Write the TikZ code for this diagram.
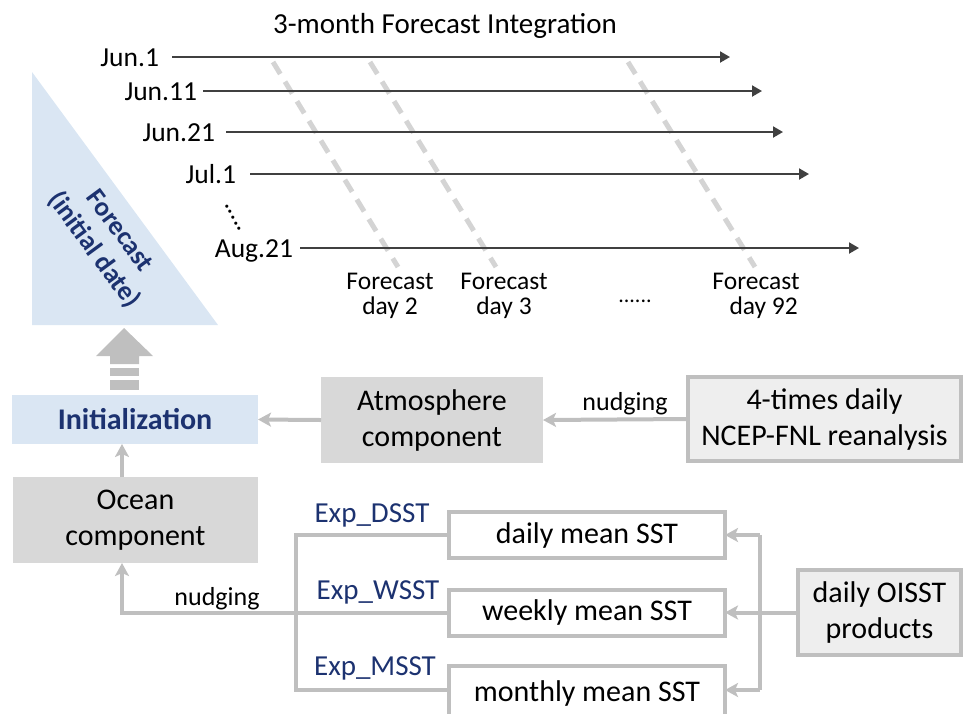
\documentclass[tikz,border=0pt]{standalone}
\usepackage{fontspec}
\setmainfont{Carlito}
\usetikzlibrary{arrows.meta}
\definecolor{navy}{RGB}{28,50,112}
\definecolor{lblue}{RGB}{218,230,243}
\definecolor{boxgray}{RGB}{216,216,216}
\definecolor{linegray}{RGB}{191,191,191}
\definecolor{dashgray}{RGB}{212,212,212}
\definecolor{darkline}{RGB}{64,64,64}
\definecolor{srcfill}{RGB}{238,238,238}
\begin{document}
\begin{tikzpicture}[x=1pt,y=-1pt,
  every node/.style={inner sep=0pt,outer sep=0pt},
  fbox/.style={font=\fontsize{30}{36}\selectfont},
  fdate/.style={font=\fontsize{27.5}{32}\selectfont},
  ftitle/.style={font=\fontsize{29}{34}\selectfont},
  fday/.style={font=\fontsize{25.5}{24.5}\selectfont},
  fsmall/.style={font=\fontsize{26}{30}\selectfont},
  fexp/.style={font=\fontsize{29}{34}\selectfont,text=navy},
  timeline/.style={draw=darkline,line width=2pt,-{Triangle[length=10pt,width=11pt]}},
  dayline/.style={draw=dashgray,line width=5pt,dash pattern=on 14pt off 9pt},
  graybox/.style={fbox,fill=boxgray,align=center},
  srcbox/.style={fbox,fill=srcfill,draw=linegray,line width=4pt,align=center},
  sstbox/.style={fbox,fill=white,draw=linegray,line width=4pt,align=center,minimum width=276pt},
  gline/.style={draw=linegray,line width=4pt},
  conn/.style={draw=linegray,line width=4pt,-{Stealth[length=13pt,width=14pt,inset=3pt]}},
]
\useasboundingbox (0,0) rectangle (965,713);

% title
\node[ftitle,anchor=base] (title) at (445,33) {3-month Forecast Integration};

% forecast-day dashed lines
\coordinate (d2a) at (273,62);  \coordinate (d2b) at (398,267);
\coordinate (d3a) at (370,62);  \coordinate (d3b) at (496,267);
\coordinate (d92a) at (628,62); \coordinate (d92b) at (755,267);
\draw[dayline] (d2a) -- (d2b);
\draw[dayline] (d3a) -- (d3b);
\draw[dayline] (d92a) -- (d92b);

% timelines
\node[fdate,anchor=base east] (l1) at (159,66) {Jun.1};
\node[fdate,anchor=base east] (l2) at (197,100) {Jun.11};
\node[fdate,anchor=base east] (l3) at (215,141) {Jun.21};
\node[fdate,anchor=base east] (l4) at (236,183) {Jul.1};
\node[fdate,anchor=base east] (l5) at (293,257) {Aug.21};
\coordinate (s1) at (172,57);  \coordinate (e1) at (730,57);
\coordinate (s2) at (203,91);  \coordinate (e2) at (762,91);
\coordinate (s3) at (226,132); \coordinate (e3) at (783,132);
\coordinate (s4) at (250,174); \coordinate (e4) at (809,174);
\coordinate (s5) at (300,248); \coordinate (e5) at (859,248);
\draw[timeline] (s1) -- (e1);
\draw[timeline] (s2) -- (e2);
\draw[timeline] (s3) -- (e3);
\draw[timeline] (s4) -- (e4);
\draw[timeline] (s5) -- (e5);
\node[fsmall,rotate=-61,anchor=base west] (vdots) at (224,204) {.....};

% forecast day labels
\node[fday,align=center] (fd2) at (390,296) {Forecast\\day 2};
\node[fday,align=center] (fd3) at (504,296) {Forecast\\day 3};
\node[font=\fontsize{22}{26}\selectfont,anchor=base] (hdots) at (635,302) {......};
\node[fday,align=center] (fd92) at (756,296) {Forecast\\\hspace*{0.6em}day 92};

% triangle
\fill[lblue] (32,72) -- (32,325) -- (218,325) -- cycle;
\node[font=\bfseries\fontsize{27}{32}\selectfont,text=navy,align=center,rotate=-53.7] (tri) at (106,241) {Forecast\\(initial date)};

% big upward arrow
\fill[linegray] (124,328) -- (153,356) -- (139,356) -- (139,364) -- (110,364) -- (110,356) -- (96,356) -- cycle;
\fill[linegray] (110,368) rectangle (139,376);
\fill[linegray] (110,380) rectangle (139,390);

% boxes
\node[fbox,fill=lblue,minimum width=246pt,minimum height=49pt,text=navy,font=\bfseries\fontsize{30}{36}\selectfont] (init) at (135,419.5) {Initialization};
\node[graybox,minimum width=245pt,minimum height=86pt] (ocean) at (135.5,520) {Ocean\\component};
\node[graybox,minimum width=222pt,minimum height=86pt] (atm) at (432,420) {Atmosphere\\component};
\node[srcbox,minimum width=273pt,minimum height=84pt] (fnl) at (824.5,419) {4-times daily\\NCEP-FNL reanalysis};
\node[srcbox,minimum width=163pt,minimum height=85pt] (oisst) at (879.5,612.5) {daily OISST\\products};
\node[sstbox,minimum height=46pt] (daily) at (587,535) {daily mean SST};
\node[sstbox,minimum height=46pt] (weekly) at (587,612.5) {weekly mean SST};
\node[sstbox,minimum height=54pt] (monthly) at (587,693) {\raisebox{4pt}{monthly mean SST}};

% upper connectors
\draw[conn] (fnl.west) -- (atm.east);
\node[fsmall,anchor=base] (nud1) at (625,410) {nudging};
\draw[conn] (atm.west) -- (init.east);
\coordinate (ox) at (122,0);
\draw[conn] (ocean.north -| ox) -- (init.south -| ox);

% SST distribution (right)
\coordinate (jr) at (760,0);
\coordinate (ym) at (0,690);
\draw[gline] (oisst.west) -- (oisst.west -| jr);
\draw[gline] (jr |- daily.east) -- (jr |- ym);
\draw[conn] (jr |- daily.east) -- (daily.east);
\draw[conn] (jr |- weekly.east) -- (weekly.east);
\draw[conn] (jr |- ym) -- (monthly.east |- ym);

% experiments bracket (left)
\coordinate (jl) at (296,0);
\draw[gline] (daily.west) -- (jl |- daily.west) -- (jl |- ym) -- (monthly.west |- ym);
\draw[conn] (weekly.west) -- (ox |- weekly.west) -- (ocean.south -| ox);
\node[fsmall,anchor=base] (nud2) at (217,605) {nudging};
\node[fexp] (edsst) at (372,515) {Exp\_DSST};
\node[fexp] (ewsst) at (378,592) {Exp\_WSST};
\node[fexp] (emsst) at (375,668) {Exp\_MSST};
\end{tikzpicture}
\end{document}
